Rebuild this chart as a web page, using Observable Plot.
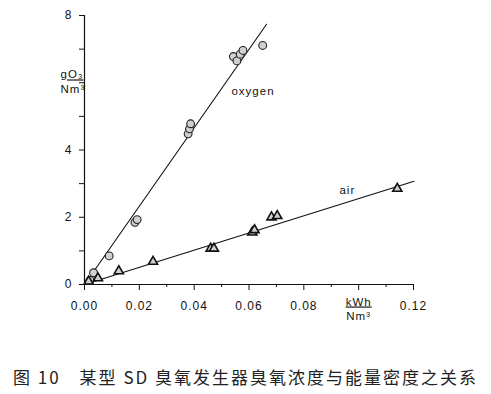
<!DOCTYPE html>
<html>
<head>
<meta charset="utf-8">
<script src="https://cdn.jsdelivr.net/npm/d3@7"></script>
<script src="https://cdn.jsdelivr.net/npm/@observablehq/plot@0.6"></script>
<style>
  body { margin: 0; background: #fff; width: 491px; height: 394px; overflow: hidden; }
  #caption { font-family: "Noto Sans CJK SC", sans-serif; font-size: 17px; color: #222;
    text-align: center; width: 491px; margin-top: 34px; letter-spacing: 2px; white-space: pre; }
  svg text { letter-spacing: 1px; }
</style>
</head>
<body>
<div id="chart"></div>
<div id="caption">图 10　某型 SD 臭氧发生器臭氧浓度与能量密度之关系</div>
<script>
// Oxygen-fed generator (circles)
const oxygenX = [0.0020, 0.0033, 0.0090, 0.0184, 0.0192, 0.0378, 0.0383, 0.0387, 0.0543, 0.0556, 0.0568, 0.0578, 0.0650];
const oxygenY = [0.12, 0.35, 0.85, 1.85, 1.93, 4.48, 4.63, 4.78, 6.78, 6.65, 6.85, 6.96, 7.11];
// Air-fed generator (triangles)
const airX = [0.0015, 0.0049, 0.0125, 0.0250, 0.0460, 0.0472, 0.0612, 0.0620, 0.0682, 0.0703, 0.1141];
const airY = [0.09, 0.19, 0.40, 0.68, 1.07, 1.07, 1.55, 1.62, 2.00, 2.04, 2.85];
// Fitted lines (end points)
const oxygenFitX = [0.0015, 0.0664];
const oxygenFitY = [0.17, 7.74];
const airFitX = [0.0015, 0.1202];
const airFitY = [0.04, 3.07];
// Axis ticks
const yTicks = [0, 1, 2, 3, 4, 5, 6, 7, 8];
const yLabels = ["0", "", "2", "", "4", "", "", "", "8"];
const xTicks = [0, 0.02, 0.04, 0.06, 0.08, 0.10, 0.12];
const xLabels = ["0.00", "0.02", "0.04", "0.06", "0.08", "", "0.12"];
const xMinor = [0.01, 0.03, 0.05, 0.07, 0.09, 0.11];
const seriesLabels = [{x: 0.0536, y: 5.74, t: "oxygen"}, {x: 0.0930, y: 2.80, t: "air"}];

const oxygen = oxygenX.map((x, i) => ({x, y: oxygenY[i]}));
const air = airX.map((x, i) => ({x, y: airY[i]}));
const oxFit = oxygenFitX.map((x, i) => ({x, y: oxygenFitY[i]}));
const airFit = airFitX.map((x, i) => ({x, y: airFitY[i]}));

const font = "'Liberation Sans', Arial, sans-serif";
const plot = Plot.plot({
  width: 491,
  height: 330,
  marginLeft: 84,
  marginRight: 78,
  marginTop: 15,
  marginBottom: 46,
  style: {fontFamily: font, fontSize: "11px", color: "#111", background: "#fff"},
  x: {domain: [0, 0.12]},
  y: {domain: [0, 8]},
  marks: [
    Plot.axisY({ticks: yTicks, tickSize: 5, tickPadding: 7, fontSize: 12,
      tickFormat: (d) => yLabels[yTicks.indexOf(d)], label: null, stroke: "#111"}),
    Plot.axisX({ticks: xTicks, tickSize: 6, tickPadding: 11, fontSize: 12,
      tickFormat: (d) => xLabels[xTicks.findIndex(t => Math.abs(t - d) < 1e-9)], label: null, stroke: "#111"}),
    Plot.axisX({ticks: xMinor, tickSize: 3, tickFormat: () => "", label: null, stroke: "#111"}),
    Plot.ruleX([0], {y1: 0, y2: 8, stroke: "#111", strokeWidth: 1.2}),
    Plot.ruleY([0], {x1: 0, x2: 0.12, stroke: "#111", strokeWidth: 1.2}),
    Plot.line(oxFit, {x: "x", y: "y", stroke: "#111", strokeWidth: 1.1}),
    Plot.line(airFit, {x: "x", y: "y", stroke: "#111", strokeWidth: 1.1}),
    Plot.dot(oxygen, {x: "x", y: "y", r: 3.9, fill: "#d0d0d0", stroke: "#222", strokeWidth: 1.1}),
    Plot.dot(air, {x: "x", y: "y", r: 3.4, symbol: "triangle", fill: "#d0d0d0", stroke: "#111", strokeWidth: 1.6}),
    Plot.text(seriesLabels, {x: "x", y: "y", text: "t", textAnchor: "start", fontSize: 11.5, fill: "#111"}),
    // y-axis unit fraction at y = 6
    Plot.text([6], {y: (d) => d, text: () => "gO₃", frameAnchor: "left", dx: -24, dy: -8, fontSize: 11.5, fill: "#111"}),
    Plot.text([6], {y: (d) => d, text: () => "Nm³", frameAnchor: "left", dx: -24, dy: 7, fontSize: 11.5, fill: "#111"}),
    // x-axis unit fraction at x = 0.10
    Plot.text([0.10], {x: (d) => d, text: () => "kWh", frameAnchor: "bottom", dy: 21, fontSize: 11.5, fill: "#111"}),
    Plot.text([0.10], {x: (d) => d, text: () => "Nm³", frameAnchor: "bottom", dy: 35, fontSize: 11.5, fill: "#111"})
  ]
});
document.getElementById("chart").appendChild(plot);
// underline fraction numerators
d3.select(plot).selectAll("text").each(function () {
  const t = this.textContent;
  if (t === "gO₃" || t === "kWh") this.style.textDecoration = "underline";
});
</script>
</body>
</html>
